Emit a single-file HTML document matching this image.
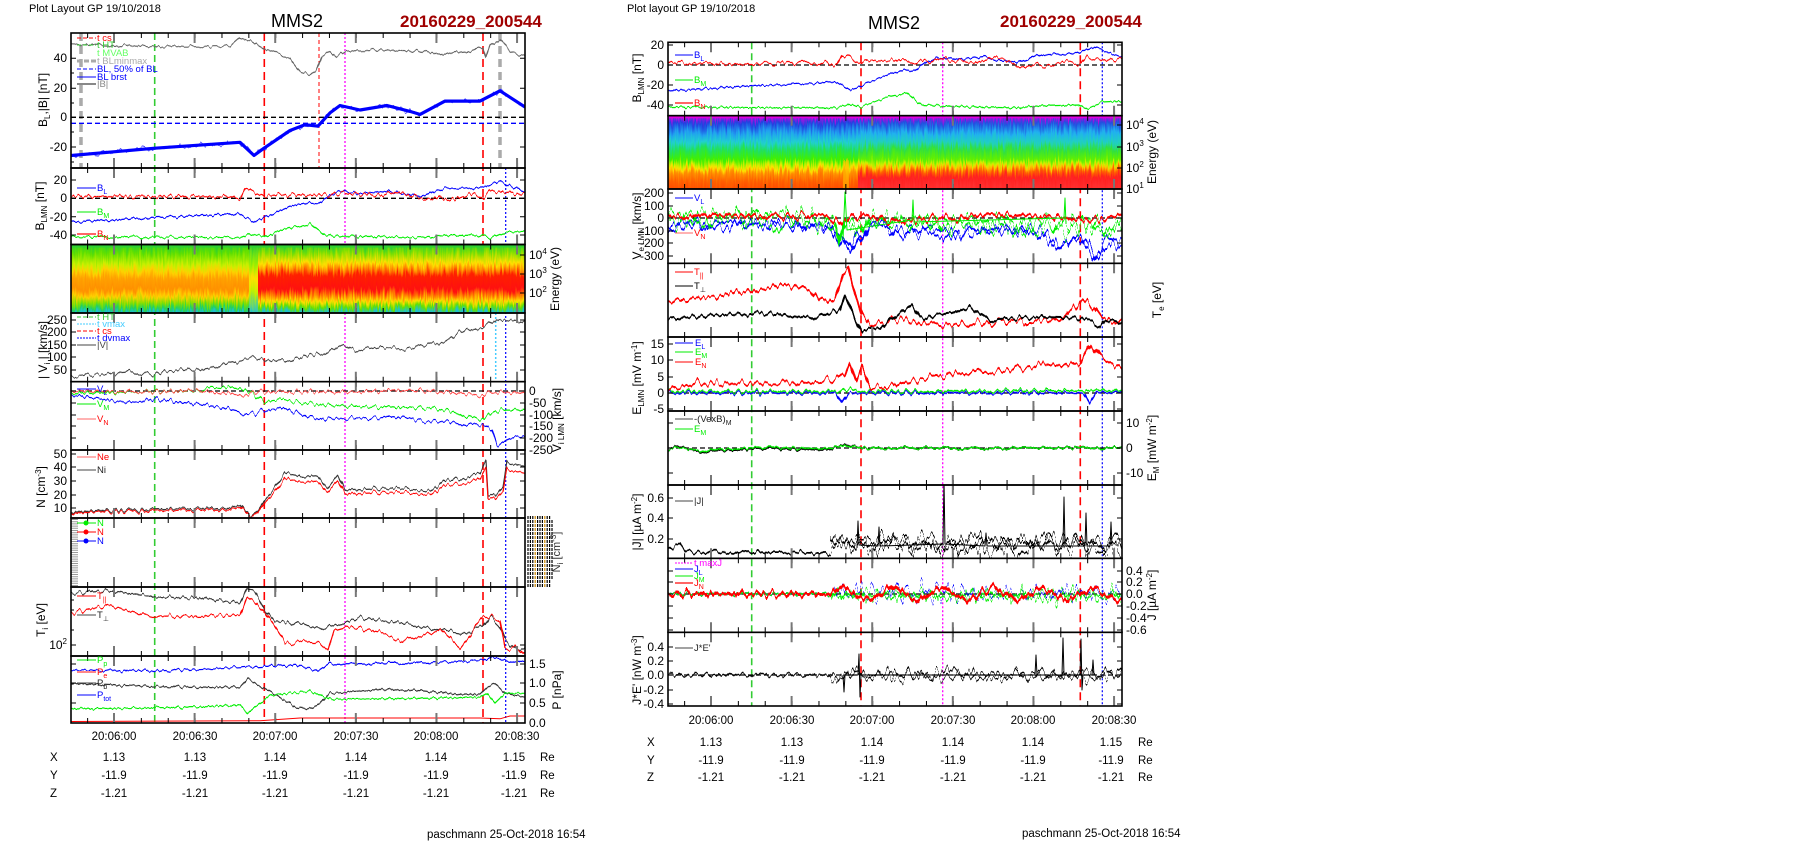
<!DOCTYPE html>
<html><head><meta charset="utf-8"><style>html,body{margin:0;padding:0;background:#fff}svg{display:block}</style></head>
<body>
<svg width="1804" height="841" xmlns="http://www.w3.org/2000/svg" xmlns:xlink="http://www.w3.org/1999/xlink" font-family="Liberation Sans, Arial, sans-serif">
<rect width="1804" height="841" fill="#fff"/>
<defs>
<linearGradient id="gO" x1="0" y1="244.5" x2="0" y2="313" gradientUnits="userSpaceOnUse">
<stop offset="0" stop-color="#30d030"/><stop offset="0.12" stop-color="#60e000"/><stop offset="0.3" stop-color="#c8f000"/><stop offset="0.4" stop-color="#ffd000"/><stop offset="0.5" stop-color="#ffa000"/><stop offset="0.65" stop-color="#ff9000"/><stop offset="0.76" stop-color="#ffd000"/><stop offset="0.86" stop-color="#80e000"/><stop offset="0.94" stop-color="#20d060"/><stop offset="1" stop-color="#20c0d0"/></linearGradient>
<linearGradient id="gR" x1="0" y1="244.5" x2="0" y2="313" gradientUnits="userSpaceOnUse">
<stop offset="0" stop-color="#30d030"/><stop offset="0.12" stop-color="#80e000"/><stop offset="0.27" stop-color="#ffe000"/><stop offset="0.37" stop-color="#ff8000"/><stop offset="0.45" stop-color="#ff2000"/><stop offset="0.65" stop-color="#ff1010"/><stop offset="0.75" stop-color="#ff8000"/><stop offset="0.83" stop-color="#ffe000"/><stop offset="0.91" stop-color="#60e000"/><stop offset="1" stop-color="#20c0d0"/></linearGradient>
<linearGradient id="gY" x1="0" y1="244.5" x2="0" y2="313" gradientUnits="userSpaceOnUse">
<stop offset="0" stop-color="#30d030"/><stop offset="0.3" stop-color="#a0f000"/><stop offset="0.5" stop-color="#ffe000"/><stop offset="0.7" stop-color="#c0f000"/><stop offset="1" stop-color="#20c0d0"/></linearGradient>
<linearGradient id="gE1" x1="0" y1="115.7" x2="0" y2="189" gradientUnits="userSpaceOnUse">
<stop offset="0" stop-color="#e000e0"/><stop offset="0.05" stop-color="#8020e0"/><stop offset="0.1" stop-color="#2040e0"/><stop offset="0.24" stop-color="#20a0f0"/><stop offset="0.36" stop-color="#20d0d0"/><stop offset="0.46" stop-color="#20e060"/><stop offset="0.6" stop-color="#40f000"/><stop offset="0.67" stop-color="#c0f000"/><stop offset="0.72" stop-color="#ffe000"/><stop offset="0.78" stop-color="#ff9000"/><stop offset="0.9" stop-color="#ff6000"/><stop offset="1" stop-color="#ff5000"/></linearGradient>
<linearGradient id="gE2" x1="0" y1="115.7" x2="0" y2="189" gradientUnits="userSpaceOnUse">
<stop offset="0" stop-color="#e000e0"/><stop offset="0.05" stop-color="#8020e0"/><stop offset="0.1" stop-color="#2050e0"/><stop offset="0.24" stop-color="#20b0f0"/><stop offset="0.36" stop-color="#20d0c0"/><stop offset="0.46" stop-color="#30e040"/><stop offset="0.6" stop-color="#60f000"/><stop offset="0.66" stop-color="#d0f000"/><stop offset="0.7" stop-color="#ffc000"/><stop offset="0.76" stop-color="#ff6000"/><stop offset="0.84" stop-color="#ff2020"/><stop offset="1" stop-color="#ff3030"/></linearGradient>

<filter id="n1" filterUnits="userSpaceOnUse" x="0" y="0" width="1804" height="841" color-interpolation-filters="sRGB"><feTurbulence type="fractalNoise" baseFrequency="0.25 0.01" numOctaves="2" seed="1" result="t"/><feColorMatrix in="t" type="matrix" values="0 0 0 0 0.5  0 1 0 0 0  0 0 0 0 0  0 0 0 0 1" result="m"/><feDisplacementMap in="SourceGraphic" in2="m" scale="6" xChannelSelector="R" yChannelSelector="G"/></filter>
<filter id="n2" filterUnits="userSpaceOnUse" x="0" y="0" width="1804" height="841" color-interpolation-filters="sRGB"><feTurbulence type="fractalNoise" baseFrequency="0.22 0.01" numOctaves="2" seed="2" result="t"/><feColorMatrix in="t" type="matrix" values="0 0 0 0 0.5  0 1 0 0 0  0 0 0 0 0  0 0 0 0 1" result="m"/><feDisplacementMap in="SourceGraphic" in2="m" scale="10" xChannelSelector="R" yChannelSelector="G"/></filter>
<filter id="n3" filterUnits="userSpaceOnUse" x="0" y="0" width="1804" height="841" color-interpolation-filters="sRGB"><feTurbulence type="fractalNoise" baseFrequency="0.2 0.01" numOctaves="2" seed="3" result="t"/><feColorMatrix in="t" type="matrix" values="0 0 0 0 0.5  0 1 0 0 0  0 0 0 0 0  0 0 0 0 1" result="m"/><feDisplacementMap in="SourceGraphic" in2="m" scale="18" xChannelSelector="R" yChannelSelector="G"/></filter>
<filter id="n4" filterUnits="userSpaceOnUse" x="0" y="0" width="1804" height="841" color-interpolation-filters="sRGB"><feTurbulence type="fractalNoise" baseFrequency="0.2 0.01" numOctaves="2" seed="4" result="t"/><feColorMatrix in="t" type="matrix" values="0 0 0 0 0.5  0 1 0 0 0  0 0 0 0 0  0 0 0 0 1" result="m"/><feDisplacementMap in="SourceGraphic" in2="m" scale="30" xChannelSelector="R" yChannelSelector="G"/></filter>
<filter id="n4b" filterUnits="userSpaceOnUse" x="0" y="0" width="1804" height="841" color-interpolation-filters="sRGB"><feTurbulence type="fractalNoise" baseFrequency="0.2 0.01" numOctaves="2" seed="14" result="t"/><feColorMatrix in="t" type="matrix" values="0 0 0 0 0.5  0 1 0 0 0  0 0 0 0 0  0 0 0 0 1" result="m"/><feDisplacementMap in="SourceGraphic" in2="m" scale="26" xChannelSelector="R" yChannelSelector="G"/></filter>
<filter id="n5" filterUnits="userSpaceOnUse" x="0" y="0" width="1804" height="841" color-interpolation-filters="sRGB"><feTurbulence type="fractalNoise" baseFrequency="0.2 0.01" numOctaves="2" seed="5" result="t"/><feColorMatrix in="t" type="matrix" values="0 0 0 0 0.5  0 1 0 0 0  0 0 0 0 0  0 0 0 0 1" result="m"/><feDisplacementMap in="SourceGraphic" in2="m" scale="48" xChannelSelector="R" yChannelSelector="G"/></filter>
<filter id="n5b" filterUnits="userSpaceOnUse" x="0" y="0" width="1804" height="841" color-interpolation-filters="sRGB"><feTurbulence type="fractalNoise" baseFrequency="0.2 0.01" numOctaves="2" seed="25" result="t"/><feColorMatrix in="t" type="matrix" values="0 0 0 0 0.5  0 1 0 0 0  0 0 0 0 0  0 0 0 0 1" result="m"/><feDisplacementMap in="SourceGraphic" in2="m" scale="40" xChannelSelector="R" yChannelSelector="G"/></filter>
<filter id="ns" filterUnits="userSpaceOnUse" x="0" y="0" width="1804" height="841" color-interpolation-filters="sRGB"><feTurbulence type="fractalNoise" baseFrequency="0.6 0.05" numOctaves="2" seed="9" result="t"/><feColorMatrix in="t" type="matrix" values="0 0 0 0 0.5  0 1 0 0 0  0 0 0 0 0  0 0 0 0 1" result="m"/><feDisplacementMap in="SourceGraphic" in2="m" scale="16" xChannelSelector="R" yChannelSelector="G"/></filter>

<clipPath id="cL1"><rect x="71" y="33" width="454" height="135"/></clipPath>
<clipPath id="cL2"><rect x="71" y="168" width="454" height="76.5"/></clipPath>
<clipPath id="cL3"><rect x="71" y="244.5" width="454" height="68.5"/></clipPath>
<clipPath id="cL4"><rect x="71" y="313" width="454" height="68.7"/></clipPath>
<clipPath id="cL5"><rect x="71" y="381.7" width="454" height="68.3"/></clipPath>
<clipPath id="cL6"><rect x="71" y="450" width="454" height="68"/></clipPath>
<clipPath id="cL8"><rect x="71" y="587" width="454" height="69"/></clipPath>
<clipPath id="cL9"><rect x="71" y="656" width="454" height="67"/></clipPath>
<clipPath id="cR1"><rect x="668" y="42.3" width="454" height="73.4"/></clipPath>
<clipPath id="cR2"><rect x="668" y="115.7" width="454" height="73.3"/></clipPath>
<clipPath id="cR3"><rect x="668" y="189" width="454" height="74.3"/></clipPath>
<clipPath id="cR4"><rect x="668" y="263.3" width="454" height="73.7"/></clipPath>
<clipPath id="cR5"><rect x="668" y="337" width="454" height="74"/></clipPath>
<clipPath id="cR6"><rect x="668" y="411" width="454" height="74"/></clipPath>
<clipPath id="cR7"><rect x="668" y="485" width="454" height="73.3"/></clipPath>
<clipPath id="cR8"><rect x="668" y="558.3" width="454" height="74"/></clipPath>
<clipPath id="cR9"><rect x="668" y="632.3" width="454" height="73.7"/></clipPath>

<g id="tkL"><line x1="87.12" x2="525" y1="2.5" y2="2.5" stroke="#000" stroke-width="5" stroke-dasharray="1 25.87"/><line x1="113" x2="525" y1="5" y2="5" stroke="#777" stroke-width="10" stroke-dasharray="2 78.61"/></g>
<g id="tkLb"><line x1="87.12" x2="525" y1="-2.5" y2="-2.5" stroke="#000" stroke-width="5" stroke-dasharray="1 25.87"/><line x1="113" x2="525" y1="-5" y2="-5" stroke="#777" stroke-width="10" stroke-dasharray="2 78.61"/></g>
<g id="tkR"><line x1="684.12" x2="1122" y1="2.5" y2="2.5" stroke="#000" stroke-width="5" stroke-dasharray="1 25.87"/><line x1="710" x2="1122" y1="5" y2="5" stroke="#777" stroke-width="10" stroke-dasharray="2 78.61"/></g>
<g id="tkRb"><line x1="684.12" x2="1122" y1="-2.5" y2="-2.5" stroke="#000" stroke-width="5" stroke-dasharray="1 25.87"/><line x1="710" x2="1122" y1="-5" y2="-5" stroke="#777" stroke-width="10" stroke-dasharray="2 78.61"/></g>
</defs>

<g fill="none">
<line x1="154.7" x2="154.7" y1="33" y2="723" stroke="#3c3" stroke-width="1.6" stroke-dasharray="7,4"/>
<line x1="264.3" x2="264.3" y1="33" y2="723" stroke="#f00" stroke-width="1.6" stroke-dasharray="8,5"/>
<line x1="345" x2="345" y1="33" y2="723" stroke="#f0f" stroke-width="1.3" stroke-dasharray="2,2"/>
<line x1="483" x2="483" y1="33" y2="723" stroke="#f00" stroke-width="1.6" stroke-dasharray="8,5"/>
<line x1="505.7" x2="505.7" y1="168" y2="723" stroke="#00f" stroke-width="1.2" stroke-dasharray="2,2"/>
<line x1="319" x2="319" y1="33" y2="168" stroke="#f00" stroke-width="1" stroke-dasharray="4,3"/>
<line x1="495.7" x2="495.7" y1="313" y2="381" stroke="#4cf" stroke-width="1.5" stroke-dasharray="2,2"/>
<line x1="81" x2="81" y1="33" y2="168" stroke="#aaa" stroke-width="3.5" stroke-dasharray="8,5"/>
<line x1="500" x2="500" y1="33" y2="168" stroke="#aaa" stroke-width="3.5" stroke-dasharray="8,5"/>
<line x1="751.7" x2="751.7" y1="42.3" y2="706" stroke="#3c3" stroke-width="1.6" stroke-dasharray="7,4"/>
<line x1="861" x2="861" y1="42.3" y2="706" stroke="#f00" stroke-width="1.6" stroke-dasharray="8,5"/>
<line x1="942.7" x2="942.7" y1="42.3" y2="706" stroke="#f0f" stroke-width="1.3" stroke-dasharray="2,2"/>
<line x1="1080.3" x2="1080.3" y1="42.3" y2="706" stroke="#f00" stroke-width="1.6" stroke-dasharray="8,5"/>
<line x1="1102.3" x2="1102.3" y1="42.3" y2="706" stroke="#00f" stroke-width="1.2" stroke-dasharray="2,2"/>
</g>

<g clip-path="url(#cL3)"><g filter="url(#ns)">
<rect x="60" y="234" width="190" height="90" fill="url(#gO)"/><rect x="249" y="234" width="9" height="90" fill="url(#gY)"/><rect x="258" y="234" width="280" height="90" fill="url(#gR)"/>
</g>
<rect x="71" y="244.5" width="454" height="3" fill="#30d030"/>
</g>
<g clip-path="url(#cR2)"><g filter="url(#ns)">
<rect x="660" y="105" width="198" height="95" fill="url(#gE1)"/><rect x="858" y="105" width="275" height="95" fill="url(#gE2)"/>
<rect x="843" y="160" width="6" height="35" fill="#ffc000" opacity="0.6"/>
</g>
<rect x="668" y="115.7" width="454" height="2.5" fill="#e000e0"/>
</g>

<g stroke-width="1.3" stroke-dasharray="5,3">
<line x1="71" x2="525" y1="117.3" y2="117.3" stroke="#000"/><line x1="71" x2="525" y1="123.3" y2="123.3" stroke="#00f"/>
<line x1="71" x2="525" y1="198.3" y2="198.3" stroke="#000"/><line x1="71" x2="525" y1="391" y2="391" stroke="#000"/>
<line x1="668" x2="1122" y1="65" y2="65" stroke="#000"/><line x1="668" x2="1122" y1="218" y2="218" stroke="#000"/>
<line x1="668" x2="1122" y1="393" y2="393" stroke="#000"/><line x1="668" x2="1122" y1="448" y2="448" stroke="#000"/>
<line x1="668" x2="1122" y1="594" y2="594" stroke="#000"/><line x1="668" x2="1122" y1="675" y2="675" stroke="#000"/>
</g>

<g fill="none" stroke-linejoin="round">
<g clip-path="url(#cL1)">
<polyline filter="url(#n1)" stroke="#666" stroke-width="1.2" points="71,43.8 150,46.7 230,46.7 240,37.9 250,40.9 264,48.2 290,58.5 300,71.7 310,74.7 316,71.7 322,55.6 330,51.1 336,57 345,51.1 380,49.7 420,51.1 440,54.1 470,51.1 483,46.7 486,57 490,45.3 500,39.4 510,51.1 525,57"/>
<polyline filter="url(#n2)" stroke="#55f" stroke-width="1.2" points="71,155.5 155,148.2 240,142.3 254,155.5 264,148.2 290,130.5 305,124.7 318,126.1 330,112.9 340,105.5 360,110 387,105.5 410,111.4 420,114.4 445,101.1 480,101.1 500,90.8 525,107"/>
<polyline stroke="#00f" stroke-width="3.2" points="71,155.5 155,148.2 240,142.3 254,155.5 264,148.2 290,130.5 305,124.7 318,126.1 330,112.9 340,105.5 360,110 387,105.5 410,111.4 420,114.4 445,101.1 480,101.1 500,90.8 525,107"/>
</g>
<g clip-path="url(#cL2)">
<polyline filter="url(#n1)" stroke="#00f" stroke-width="1.2" points="71,222.1 155,217.6 240,213.9 254,222.1 264,217.6 290,206.6 305,202.9 318,203.8 330,195.5 340,191 360,193.7 387,191 410,194.6 420,196.5 445,188.2 480,188.2 500,181.8 525,191.9"/>
<polyline filter="url(#n2)" stroke="#f00" stroke-width="1.2" points="71,196.5 230,196.5 240,199.2 245,189.1 252,191 260,195.5 300,194.6 330,195.5 340,192.8 380,195.5 400,191.9 410,195.5 430,200.1 440,196.5 450,201 470,193.7 483,198.3 490,191 525,194.6"/>
<polyline filter="url(#n1)" stroke="#0e0" stroke-width="1.2" points="71,236.8 240,237.7 250,234 264,236.8 290,227.6 300,225.8 310,224 318,230.4 325,235 345,235.9 420,237.7 440,235.9 483,235 490,238.6 505,232.2 525,231.3"/>
</g>
<g clip-path="url(#cL4)">
<polyline filter="url(#n2)" stroke="#444" stroke-width="1.2" points="71,376.3 130,372.5 155,375 165,371.3 195,370 240,362.5 252,357.5 264,360 283,361.3 310,355 325,355 342,345 357,351.3 380,346.3 405,348.8 430,342.5 445,342.5 460,332.5 470,328.8 483,327.5 497,318.8 510,321.3 525,320"/>
</g>
<g clip-path="url(#cL5)">
<polyline filter="url(#n2)" stroke="#00f" stroke-width="1.2" points="71,395 130,402.8 155,399 220,407 250,414.6 264,409.9 283,408.5 310,417 345,418.8 400,417 425,421.7 465,422.9 483,425.2 492,431.1 497,446.7 510,438.2 525,435.8"/>
<polyline filter="url(#n2)" stroke="#0e0" stroke-width="1.2" points="71,393.4 155,391.7 200,391 210,386.8 240,388.6 250,392.2 264,401.6 283,399.3 300,402.8 345,406.1 400,407.5 430,408 460,413.4 483,420 490,414.6 500,409.9 525,409.9"/>
<polyline filter="url(#n2)" stroke="#f44" stroke-width="1.2" points="71,391 150,392.2 200,390.5 245,395.7 255,392.2 300,391.7 350,392.2 410,389.8 430,391 483,395.7 490,392.2 525,392.9"/>
</g>
<g clip-path="url(#cL6)">
<polyline filter="url(#n2)" stroke="#333" stroke-width="1.2" points="71,511.9 155,509.2 230,507.9 240,505.2 250,515.9 258,510.6 264,501.2 275,487.7 285,474.3 300,477 318,475.6 327,487.7 338,474.3 345,490.4 400,487.7 430,491.8 445,481 470,477 480,473 486,460.9 488,494.4 495,495.8 503,487.7 507,462.2 525,466.2"/>
<polyline filter="url(#n2)" stroke="#f00" stroke-width="1.2" points="71,513 155,510.7 230,509.5 240,507.1 250,516.6 258,511.9 264,503.6 275,491.8 285,479.9 300,482.3 318,481.1 327,491.8 338,479.9 345,494.1 400,491.8 430,495.3 445,485.8 470,482.3 480,478.7 486,468.1 488,497.7 495,498.9 503,491.8 507,469.3 525,472.8"/>
</g>
<g clip-path="url(#cL8)">
<polyline filter="url(#n2)" stroke="#333" stroke-width="1.2" points="71,593 110,591 155,597 200,598 240,603 247,588 255,592 265,610 275,622 290,622 320,628 345,623 360,618 400,623 440,630 460,633 483,627 490,616 500,626 505,640 515,648 525,650"/>
<polyline filter="url(#n2)" stroke="#f00" stroke-width="1.2" points="71,613 110,605 150,617 240,615 247,597 255,603 265,612 285,642 320,642 328,650 334,630 345,627 380,632 400,642 440,630 460,647 483,617 490,616 500,620 505,650 515,646 525,655"/>
</g>
<g clip-path="url(#cL9)">
<polyline filter="url(#n1)" stroke="#00f" stroke-width="1.2" points="71,670.2 155,671 230,667.8 264,665.9 300,665.9 318,671.7 330,663.9 420,663.1 483,661.2 490,657.6 500,659.2 510,661.9 525,661.9"/>
<polyline filter="url(#n1)" stroke="#333" stroke-width="1.2" points="71,683.5 155,686.6 240,687.4 248,678.8 270,691.3 295,707 310,709 320,703.1 330,693.3 380,689.4 420,690.6 460,694.5 480,694.5 487,687.4 495,683.5 505,693.3 525,697.2"/>
<polyline filter="url(#n1)" stroke="#0e0" stroke-width="1.2" points="71,709 200,707 240,705.1 248,712.9 270,695.3 310,691.3 330,699.2 420,698.4 480,697.2 487,693.3 495,703.1 505,693.3 525,693.3"/>
<polyline stroke="#f00" stroke-width="1" points="71,721.5 260,720.7 300,718 480,718 500,718.8 510,716 525,716"/>
</g>

<g clip-path="url(#cR1)">
<polyline filter="url(#n1)" stroke="#00f" stroke-width="1.2" points="668,91 752,86 837,82 851,91 861,86 887,74 902,70 915,71 927,62 937,57 957,60 984,57 1007,61 1017,63 1042,54 1077,54 1097,47 1122,58"/>
<polyline filter="url(#n2)" stroke="#f00" stroke-width="1.2" points="668,63 827,63 837,66 842,55 849,57 857,62 897,61 927,62 937,59 977,62 997,58 1007,62 1027,67 1037,63 1047,68 1067,60 1080,65 1087,57 1122,61"/>
<polyline filter="url(#n1)" stroke="#0e0" stroke-width="1.2" points="668,107 837,108 847,104 861,107 887,97 897,95 907,93 915,100 922,105 942,106 1017,108 1037,106 1080,105 1087,109 1102,102 1122,101"/>
</g>
<g clip-path="url(#cR3)">
<polyline filter="url(#n4)" stroke="#00f" stroke-width="2" points="668,226.7 700,224.2 800,225.1 830,226.7 840,240 850,249 858,236.6 863,240.3 870,225.1 900,230 940,232.9 1000,230 1040,232.9 1063,244 1080,240 1095,254 1105,245.3 1122,241.6"/>
<polyline filter="url(#n4b)" stroke="#00f" stroke-width="2" points="668,226.7 700,224.2 800,225.1 830,226.7 840,240 850,249 858,236.6 863,240.3 870,225.1 900,230 940,232.9 1000,230 1040,232.9 1063,244 1080,240 1095,254 1105,245.3 1122,241.6"/>
<polyline filter="url(#n5)" stroke="#0e0" stroke-width="2" points="668,218 700,216.8 800,218 835,224.2 840,240.3 845,223 860,230.4 870,218 900,220.5 950,223 1000,224.2 1060,226.7 1090,223 1100,229.2 1122,224.2"/>
<polyline filter="url(#n5b)" stroke="#0e0" stroke-width="2" points="668,218 700,216.8 800,218 835,224.2 840,240.3 845,223 860,230.4 870,218 900,220.5 950,223 1000,224.2 1060,226.7 1090,223 1100,229.2 1122,224.2"/>
<polyline filter="url(#n3)" stroke="#f00" stroke-width="2.4" points="668,216.8 700,215.5 790,216.8 830,216.8 840,223 850,216.8 870,216.1 900,221.7 940,217.4 1000,214.9 1040,216.8 1060,218 1080,219.2 1095,219.9 1122,216.8"/>
<polyline stroke="#0e0" stroke-width="1" points="843,240 845,192 847,230 912,220 913,200 914,222 1064,218 1065,198 1066,224"/>
</g>
<g clip-path="url(#cR4)">
<polyline filter="url(#n3)" stroke="#f00" stroke-width="2" points="668,301.7 700,298 760,290 790,285 810,290 820,300 835,300 843,272 848,268 852,285 862,315 870,323 900,320 950,325 1000,322 1040,322 1060,320 1082,300 1095,308 1102,318 1122,321"/>
<polyline filter="url(#n2)" stroke="#000" stroke-width="2" points="668,318 760,313 810,318 840,310 845,295 855,318 862,330 880,330 890,320 912,305 920,318 950,313 970,307 990,320 1040,317 1082,318 1100,326 1105,320 1122,321"/>
</g>
<g clip-path="url(#cR5)">
<polyline filter="url(#n2)" stroke="#00f" stroke-width="1.6" points="668,393 836,393 842,403 848,393 1084,393 1090,403 1096,393 1122,392"/>
<polyline filter="url(#n2)" stroke="#0e0" stroke-width="1.6" points="668,391.5 840,391.5 850,388 860,391.5 1122,390.5"/>
<polyline filter="url(#n3)" stroke="#f00" stroke-width="2" points="668,389.7 700,383.2 800,383.2 830,379.9 845,373.4 850,360.3 856,379.9 862,366.8 870,386.5 890,386.5 930,376.7 960,373.4 1000,370.1 1040,366.8 1080,363.6 1092,344 1100,357 1122,366.8"/>
</g>
<g clip-path="url(#cR6)">
<polyline filter="url(#n1)" stroke="#000" stroke-width="1.8" points="668,450 680,446 700,452 720,450 760,449 830,449 845,445 860,448 1122,448"/>
<polyline filter="url(#n1)" stroke="#0e0" stroke-width="1.4" points="668,450 680,447 700,451 720,449 760,448 830,448 845,446 860,448 1122,448"/>
</g>
<g clip-path="url(#cR7)">
<polyline filter="url(#n2)" stroke="#000" stroke-width="1.8" points="668,548 680,546 686,552 830,553"/>
<polyline filter="url(#n5)" stroke="#000" stroke-width="1.8" points="830,546 1122,545"/>
<polyline filter="url(#n4)" stroke="#000" stroke-width="1.8" points="830,543 1122,542"/>
<polyline filter="url(#n5b)" stroke="#000" stroke-width="1.8" points="830,544 1122,543"/>
<polyline stroke="#000" stroke-width="1" points="857,548 858,521 859,545 878,546 879,527 880,546 943,544 944,480 945,544 985,546 986,533 987,546 1063,546 1064,497 1065,546 1085,546 1086,513 1087,546 1110,546 1111,522 1112,546"/>
</g>
<g clip-path="url(#cR8)">
<polyline filter="url(#n2)" stroke="#00f" stroke-width="1.4" points="668,594 830,594"/>
<polyline filter="url(#n5)" stroke="#00f" stroke-width="1.6" points="830,593 1122,593"/>
<polyline filter="url(#n2)" stroke="#0e0" stroke-width="1.4" points="668,594 830,594"/>
<polyline filter="url(#n5b)" stroke="#0e0" stroke-width="1.8" points="830,596 1122,596"/>
<polyline filter="url(#n4)" stroke="#0e0" stroke-width="1.6" points="830,595 1122,595"/>
<polyline filter="url(#n3)" stroke="#f00" stroke-width="3" points="668,594 830,594 842.5,587 855,594 867.5,601 880,594 892.5,586 905,594 917.5,601 930,594 942.5,587 955,594 967.5,601 980,594 992.5,587 1005,594 1017.5,601 1030,594 1042.5,587 1055,594 1067.5,601 1080,594 1092.5,587 1105,594 1117.5,601 1122,599"/>
</g>
<g clip-path="url(#cR9)">
<polyline filter="url(#n2)" stroke="#000" stroke-width="1.6" points="668,675 830,675"/>
<polyline filter="url(#n4)" stroke="#000" stroke-width="1.6" points="830,675 1122,675"/>
<polyline filter="url(#n4b)" stroke="#000" stroke-width="1.6" points="830,675 1122,675"/>
<polyline stroke="#000" stroke-width="1" points="843,675 844,692 845,675 858,675 859,654 860,697 861,675 1035,675 1036,655 1037,675 1062,675 1063,638 1064,675 1080,675 1081,639 1082,690 1083,675 1092,675 1093,660 1094,675"/>
</g>
</g>

<line x1="74.5" x2="74.5" y1="519" y2="586" stroke="#999" stroke-width="7" stroke-dasharray="1 1.2"/>
<g stroke-width="1.2" stroke-dasharray="3,1">
<line x1="528" x2="528" y1="516" y2="588" stroke="#000"/><line x1="530.4" x2="530.4" y1="516" y2="588" stroke="#000"/><line x1="532.8" x2="532.8" y1="516" y2="588" stroke="#000"/><line x1="535.2" x2="535.2" y1="516" y2="588" stroke="#c80"/><line x1="537.6" x2="537.6" y1="516" y2="588" stroke="#000"/><line x1="540" x2="540" y1="516" y2="588" stroke="#000"/><line x1="542.4" x2="542.4" y1="516" y2="588" stroke="#000"/><line x1="544.8" x2="544.8" y1="516" y2="588" stroke="#c80"/><line x1="547.2" x2="547.2" y1="516" y2="588" stroke="#000"/><line x1="549.6" x2="549.6" y1="516" y2="588" stroke="#000"/><line x1="552" x2="552" y1="520" y2="580" stroke="#000"/>
</g>

<use xlink:href="#tkL" y="33"/><use xlink:href="#tkLb" y="168"/>
<use xlink:href="#tkL" y="168"/><use xlink:href="#tkLb" y="244.5"/>
<use xlink:href="#tkL" y="244.5"/><use xlink:href="#tkLb" y="313"/>
<use xlink:href="#tkL" y="313"/><use xlink:href="#tkLb" y="381.7"/>
<use xlink:href="#tkL" y="381.7"/><use xlink:href="#tkLb" y="450"/>
<use xlink:href="#tkL" y="450"/><use xlink:href="#tkLb" y="518"/>
<use xlink:href="#tkL" y="518"/><use xlink:href="#tkLb" y="587"/>
<use xlink:href="#tkL" y="587"/><use xlink:href="#tkLb" y="656"/>
<use xlink:href="#tkL" y="656"/><use xlink:href="#tkLb" y="723"/>
<use xlink:href="#tkR" y="42.3"/><use xlink:href="#tkRb" y="115.7"/>
<use xlink:href="#tkR" y="115.7"/><use xlink:href="#tkRb" y="189"/>
<use xlink:href="#tkR" y="189"/><use xlink:href="#tkRb" y="263.3"/>
<use xlink:href="#tkR" y="263.3"/><use xlink:href="#tkRb" y="337"/>
<use xlink:href="#tkR" y="337"/><use xlink:href="#tkRb" y="411"/>
<use xlink:href="#tkR" y="411"/><use xlink:href="#tkRb" y="485"/>
<use xlink:href="#tkR" y="485"/><use xlink:href="#tkRb" y="558.3"/>
<use xlink:href="#tkR" y="558.3"/><use xlink:href="#tkRb" y="632.3"/>
<use xlink:href="#tkR" y="632.3"/><use xlink:href="#tkRb" y="706"/>
<g fill="none" stroke="#000" stroke-width="1.6">
<rect x="71" y="33" width="454" height="135"/><rect x="71" y="168" width="454" height="76.5"/><rect x="71" y="244.5" width="454" height="68.5"/><rect x="71" y="313" width="454" height="68.7"/><rect x="71" y="381.7" width="454" height="68.3"/><rect x="71" y="450" width="454" height="68"/><rect x="71" y="518" width="454" height="69"/><rect x="71" y="587" width="454" height="69"/><rect x="71" y="656" width="454" height="67"/>
<rect x="668" y="42.3" width="454" height="73.4"/><rect x="668" y="115.7" width="454" height="73.3"/><rect x="668" y="189" width="454" height="74.3"/><rect x="668" y="263.3" width="454" height="73.7"/><rect x="668" y="337" width="454" height="74"/><rect x="668" y="411" width="454" height="74"/><rect x="668" y="485" width="454" height="73.3"/><rect x="668" y="558.3" width="454" height="74"/><rect x="668" y="632.3" width="454" height="73.7"/>
</g>
<g stroke="#000" stroke-width="1">
<path d="M71 58.3h5M71 88.3h5M71 117.3h5M71 147h5M71 73h3M71 103h3M71 132h3M71 162h3M520 58.3h5M520 88.3h5M520 117.3h5M520 147h5"/>
<path d="M71 180h5M71 198.3h5M71 216.7h5M71 235h5M520 180h5M520 198.3h5M520 216.7h5M520 235h5"/>
<path d="M71 320h5M71 332h5M71 345h5M71 357h5M71 370h5M520 320h5M520 332h5M520 345h5M520 357h5M520 370h5"/>
<path d="M520 391h5M520 403h5M520 415h5M520 426h5M520 438h5M71 391h5M71 403h5M71 415h5M71 426h5M71 438h5"/>
<path d="M71 454h5M71 467h5M71 481h5M71 495h5M71 508h5M520 454h5M520 467h5M520 481h5M520 495h5M520 508h5"/>
<path d="M71 645h5M71 610h3M71 600h3M71 630h3M520 645h5"/>
<path d="M520 664h5M520 683h5M520 703h5M71 664h5M71 683h5M71 703h5"/>
<path d="M520 255h5M520 274h5M520 293h5"/>
<path d="M668 45h5M668 65h5M668 85h5M668 105h5M1117 45h5M1117 65h5M1117 85h5M1117 105h5"/>
<path d="M1117 125h5M1117 147h5M1117 168h5"/>
<path d="M668 193h5M668 206h5M668 218h5M668 231h5M668 243h5M668 256h5M1117 193h5M1117 206h5M1117 218h5M1117 231h5M1117 243h5M1117 256h5"/>
<path d="M668 344h5M668 360h5M668 377h5M668 393h5M668 409h5M1117 344h5M1117 360h5M1117 377h5M1117 393h5M1117 409h5"/>
<path d="M668 423h5M668 448h5M668 473h5M1117 423h5M1117 448h5M1117 473h5"/>
<path d="M668 498h5M668 518h5M668 539h5M1117 498h5M1117 518h5M1117 539h5"/>
<path d="M668 571h5M668 582h5M668 594h5M668 606h5M668 618h5M668 630h5M1117 571h5M1117 582h5M1117 594h5M1117 606h5M1117 618h5M1117 630h5"/>
<path d="M668 647h5M668 661h5M668 675h5M668 690h5M668 704h5M1117 647h5M1117 661h5M1117 675h5M1117 690h5M1117 704h5"/>
</g>

<text x="29" y="12" font-size="11">Plot Layout GP 19/10/2018</text>
<text x="297" y="27" font-size="18" text-anchor="middle">MMS2</text>
<text x="400" y="27" font-size="17" font-weight="bold" fill="#a00000">20160229_200544</text>
<text x="627" y="12" font-size="11">Plot layout GP 19/10/2018</text>
<text x="894" y="29" font-size="18" text-anchor="middle">MMS2</text>
<text x="1000" y="27" font-size="17" font-weight="bold" fill="#a00000">20160229_200544</text>

<g font-size="12" text-anchor="end">
<text x="67" y="62">40</text><text x="67" y="92">20</text><text x="67" y="121">0</text><text x="67" y="151">-20</text>
<text x="67" y="184">20</text><text x="67" y="202">0</text><text x="67" y="221">-20</text><text x="67" y="239">-40</text>
<text x="67" y="324">250</text><text x="67" y="336">200</text><text x="67" y="349">150</text><text x="67" y="361">100</text><text x="67" y="374">50</text>
<text x="67" y="458">50</text><text x="67" y="471">40</text><text x="67" y="485">30</text><text x="67" y="499">20</text><text x="67" y="512">10</text>
<text x="67" y="649">10<tspan font-size="8" dy="-5">2</tspan></text>
</g>
<g font-size="12">
<text x="529" y="259">10<tspan font-size="8" dy="-5">4</tspan></text><text x="529" y="278">10<tspan font-size="8" dy="-5">3</tspan></text><text x="529" y="297">10<tspan font-size="8" dy="-5">2</tspan></text>
<text x="529" y="395">0</text><text x="529" y="407">-50</text><text x="529" y="419">-100</text><text x="529" y="430">-150</text><text x="529" y="442">-200</text><text x="529" y="454">-250</text>
<text x="529" y="668">1.5</text><text x="529" y="687">1.0</text><text x="529" y="707">0.5</text><text x="529" y="727">0.0</text>
</g>
<g font-size="12">
<text transform="translate(47,100) rotate(-90)" text-anchor="middle">B<tspan font-size="8" dy="3">L</tspan><tspan dy="-3">,|B| [nT]</tspan></text>
<text transform="translate(44,206) rotate(-90)" text-anchor="middle">B<tspan font-size="8" dy="3">LMN</tspan><tspan dy="-3"> [nT]</tspan></text>
<text transform="translate(47,350) rotate(-90)" text-anchor="middle">| V<tspan font-size="8" dy="3">i</tspan><tspan dy="-3"> | [km/s]</tspan></text>
<text transform="translate(45,487) rotate(-90)" text-anchor="middle">N [cm<tspan font-size="8" dy="-4">-3</tspan><tspan dy="4">]</tspan></text>
<text transform="translate(45,620) rotate(-90)" text-anchor="middle">T<tspan font-size="8" dy="3">i</tspan><tspan dy="-3"> [eV]</tspan></text>
<text transform="translate(559,279) rotate(-90)" text-anchor="middle">Energy (eV)</text>
<text transform="translate(561,420) rotate(-90)" text-anchor="middle">V<tspan font-size="8" dy="3">i LMN</tspan><tspan dy="-3"> [km/s]</tspan></text>
<text transform="translate(561,690) rotate(-90)" text-anchor="middle">P [nPa]</text>
<text transform="translate(560,552) rotate(-90)" text-anchor="middle" font-size="11" fill="#333">N<tspan font-size="8" dy="3">i</tspan><tspan dy="-3"> [cm</tspan><tspan font-size="8" dy="-4">-3</tspan><tspan dy="4">]</tspan></text>
</g>

<g font-size="12" text-anchor="end">
<text x="664" y="49">20</text><text x="664" y="69">0</text><text x="664" y="89">-20</text><text x="664" y="109">-40</text>
<text x="664" y="197">200</text><text x="664" y="210">100</text><text x="664" y="222">0</text><text x="664" y="235">-100</text><text x="664" y="247">-200</text><text x="664" y="260">-300</text>
<text x="664" y="348">15</text><text x="664" y="364">10</text><text x="664" y="381">5</text><text x="664" y="397">0</text><text x="664" y="413">-5</text>
<text x="664" y="502">0.6</text><text x="664" y="522">0.4</text><text x="664" y="543">0.2</text>
<text x="664" y="651">0.4</text><text x="664" y="665">0.2</text><text x="664" y="679">0.0</text><text x="664" y="694">-0.2</text><text x="664" y="708">-0.4</text>
</g>
<g font-size="12">
<text x="1126" y="129">10<tspan font-size="8" dy="-5">4</tspan></text><text x="1126" y="151">10<tspan font-size="8" dy="-5">3</tspan></text><text x="1126" y="172">10<tspan font-size="8" dy="-5">2</tspan></text><text x="1126" y="193">10<tspan font-size="8" dy="-5">1</tspan></text>
<text x="1126" y="427">10</text><text x="1126" y="452">0</text><text x="1126" y="477">-10</text>
<text x="1126" y="575">0.4</text><text x="1126" y="586">0.2</text><text x="1126" y="598">0.0</text><text x="1126" y="610">-0.2</text><text x="1126" y="622">-0.4</text><text x="1126" y="634">-0.6</text>
</g>
<g font-size="12">
<text transform="translate(641,78) rotate(-90)" text-anchor="middle">B<tspan font-size="8" dy="3">LMN</tspan><tspan dy="-3"> [nT]</tspan></text>
<text transform="translate(641,226) rotate(-90)" text-anchor="middle">V<tspan font-size="8" dy="3">e LMN</tspan><tspan dy="-3"> [km/s]</tspan></text>
<text transform="translate(641,378) rotate(-90)" text-anchor="middle">E<tspan font-size="8" dy="3">LMN</tspan><tspan dy="-3">  [mV m</tspan><tspan font-size="8" dy="-4">-1</tspan><tspan dy="4">]</tspan></text>
<text transform="translate(641,522) rotate(-90)" text-anchor="middle">|J| [µA m<tspan font-size="8" dy="-4">-2</tspan><tspan dy="4">]</tspan></text>
<text transform="translate(641,670) rotate(-90)" text-anchor="middle">J*E' [nW m<tspan font-size="8" dy="-4">-3</tspan><tspan dy="4">]</tspan></text>
<text transform="translate(1156,152) rotate(-90)" text-anchor="middle">Energy (eV)</text>
<text transform="translate(1161,300) rotate(-90)" text-anchor="middle">T<tspan font-size="8" dy="3">e</tspan><tspan dy="-3"> [eV]</tspan></text>
<text transform="translate(1156,448) rotate(-90)" text-anchor="middle">E<tspan font-size="8" dy="3">M</tspan><tspan dy="-3"> [mW m</tspan><tspan font-size="8" dy="-4">-2</tspan><tspan dy="4">]</tspan></text>
<text transform="translate(1156,595) rotate(-90)" text-anchor="middle">J [µA m<tspan font-size="8" dy="-4">-2</tspan><tspan dy="4">]</tspan></text>
</g>

<g font-size="9.5">
<line x1="77" y1="38" x2="96" y2="38" stroke="#f00" stroke-dasharray="4,2"/><text x="97" y="41" fill="#f00">t  cs</text>
<line x1="77" y1="45" x2="96" y2="45" stroke="#3c3" stroke-dasharray="4,2"/><text x="97" y="48" fill="#3c3">t  HT</text>
<text x="97" y="56" fill="#6f6">t  MVAB</text>
<line x1="77" y1="61" x2="96" y2="61" stroke="#aaa" stroke-width="3" stroke-dasharray="5,2"/><text x="97" y="64" fill="#aaa">t  BLminmax</text>
<line x1="77" y1="69" x2="96" y2="69" stroke="#00f" stroke-dasharray="4,2"/><text x="97" y="72" fill="#00f">BL, 50% of BL</text>
<line x1="77" y1="77" x2="96" y2="77" stroke="#00f"/><text x="97" y="80" fill="#00f">BL  brst</text>
<line x1="77" y1="84" x2="96" y2="84" stroke="#888" stroke-width="2"/><text x="97" y="87" fill="#888">|B|</text>
<line x1="77" y1="188" x2="96" y2="188" stroke="#00f"/><text x="97" y="191" fill="#00f">B<tspan font-size="7" dy="3">L</tspan></text>
<line x1="77" y1="212" x2="96" y2="212" stroke="#0e0"/><text x="97" y="215" fill="#0e0">B<tspan font-size="7" dy="3">M</tspan></text>
<line x1="77" y1="234" x2="96" y2="234" stroke="#f66" stroke-width="2"/><text x="97" y="237" fill="#f00">B<tspan font-size="7" dy="3">N</tspan></text>
<line x1="77" y1="317" x2="96" y2="317" stroke="#3c3" stroke-dasharray="4,2"/><text x="97" y="320" fill="#3c3">t  HT</text>
<line x1="77" y1="324" x2="96" y2="324" stroke="#4cf" stroke-dasharray="2,1"/><text x="97" y="327" fill="#4cf">t  vmax</text>
<line x1="77" y1="331" x2="96" y2="331" stroke="#f00" stroke-dasharray="4,2"/><text x="97" y="334" fill="#f00">t  cs</text>
<line x1="77" y1="338" x2="96" y2="338" stroke="#00f" stroke-dasharray="2,1"/><text x="97" y="341" fill="#00f">t  dvmax</text>
<line x1="77" y1="345" x2="96" y2="345" stroke="#444"/><text x="97" y="348" fill="#444">|V|</text>
<line x1="77" y1="389" x2="96" y2="389" stroke="#00f"/><text x="97" y="392" fill="#00f">V<tspan font-size="7" dy="3">L</tspan></text>
<line x1="77" y1="404" x2="96" y2="404" stroke="#0e0"/><text x="97" y="407" fill="#0e0">V<tspan font-size="7" dy="3">M</tspan></text>
<line x1="77" y1="419" x2="96" y2="419" stroke="#f66"/><text x="97" y="422" fill="#f00">V<tspan font-size="7" dy="3">N</tspan></text>
<line x1="77" y1="457" x2="96" y2="457" stroke="#f66"/><text x="97" y="460" fill="#f00">Ne</text>
<line x1="77" y1="470" x2="96" y2="470" stroke="#444"/><text x="97" y="473" fill="#222">Ni</text>
<line x1="77" y1="523" x2="96" y2="523" stroke="#0e0"/><circle cx="86" cy="523" r="2.5" fill="#0e0"/><text x="97" y="526" fill="#0e0">N</text>
<line x1="77" y1="532" x2="96" y2="532" stroke="#f00"/><circle cx="86" cy="532" r="2.5" fill="#f00"/><text x="97" y="535" fill="#f00">N</text>
<line x1="77" y1="541" x2="96" y2="541" stroke="#00f"/><circle cx="86" cy="541" r="2.5" fill="#00f"/><text x="97" y="544" fill="#00f">N</text>
<line x1="77" y1="596" x2="96" y2="596" stroke="#f00"/><text x="97" y="599" fill="#f00">T<tspan font-size="7" dy="3">||</tspan></text>
<line x1="77" y1="615" x2="96" y2="615" stroke="#444"/><text x="97" y="618" fill="#222">T<tspan font-size="7" dy="3">⊥</tspan></text>
<line x1="77" y1="660" x2="96" y2="660" stroke="#0e0"/><text x="97" y="663" fill="#0e0">P<tspan font-size="7" dy="3">p</tspan></text>
<line x1="77" y1="672" x2="96" y2="672" stroke="#f88" stroke-width="2"/><text x="97" y="675" fill="#f00">P<tspan font-size="7" dy="3">e</tspan></text>
<line x1="77" y1="683" x2="96" y2="683" stroke="#444"/><text x="97" y="686" fill="#222">P<tspan font-size="7" dy="3">b</tspan></text>
<line x1="77" y1="695" x2="96" y2="695" stroke="#00f"/><text x="97" y="698" fill="#00f">P<tspan font-size="7" dy="3">tot</tspan></text>
</g>
<g font-size="9.5">
<line x1="675" y1="55" x2="693" y2="55" stroke="#00f"/><text x="694" y="58" fill="#00f">B<tspan font-size="7" dy="3">L</tspan></text>
<line x1="675" y1="80" x2="693" y2="80" stroke="#0e0"/><text x="694" y="83" fill="#0e0">B<tspan font-size="7" dy="3">M</tspan></text>
<line x1="675" y1="103" x2="693" y2="103" stroke="#f66" stroke-width="2"/><text x="694" y="106" fill="#f00">B<tspan font-size="7" dy="3">N</tspan></text>
<line x1="675" y1="198" x2="693" y2="198" stroke="#00f"/><text x="694" y="201" fill="#00f">V<tspan font-size="7" dy="3">L</tspan></text>
<line x1="675" y1="233" x2="693" y2="233" stroke="#f66"/><text x="694" y="236" fill="#f00">V<tspan font-size="7" dy="3">N</tspan></text>
<line x1="675" y1="272" x2="693" y2="272" stroke="#f00"/><text x="694" y="275" fill="#f00">T<tspan font-size="7" dy="3">||</tspan></text>
<line x1="675" y1="286" x2="693" y2="286" stroke="#000"/><text x="694" y="289" fill="#000">T<tspan font-size="7" dy="3">⊥</tspan></text>
<line x1="675" y1="343" x2="693" y2="343" stroke="#00f"/><text x="695" y="346" fill="#00f">E<tspan font-size="7" dy="3">L</tspan></text>
<line x1="675" y1="352" x2="693" y2="352" stroke="#0e0"/><text x="695" y="355" fill="#0e0">E<tspan font-size="7" dy="3">M</tspan></text>
<line x1="675" y1="362" x2="693" y2="362" stroke="#f00"/><text x="695" y="365" fill="#f00">E<tspan font-size="7" dy="3">N</tspan></text>
<line x1="675" y1="419" x2="693" y2="419" stroke="#444"/><text x="694" y="422" fill="#222">-(VexB)<tspan font-size="7" dy="3">M</tspan></text>
<line x1="675" y1="429" x2="693" y2="429" stroke="#0e0"/><text x="694" y="432" fill="#0e0">E<tspan font-size="7" dy="3">M</tspan></text>
<line x1="675" y1="501" x2="693" y2="501" stroke="#444"/><text x="694" y="504" fill="#222">|J|</text>
<line x1="675" y1="563" x2="693" y2="563" stroke="#f0f" stroke-dasharray="2,1"/><text x="694" y="566" fill="#f0f">t  maxJ</text>
<line x1="675" y1="569" x2="693" y2="569" stroke="#00f"/><text x="694" y="572" fill="#00f">J<tspan font-size="7" dy="3">L</tspan></text>
<line x1="675" y1="576" x2="693" y2="576" stroke="#0e0"/><text x="694" y="579" fill="#0e0">J<tspan font-size="7" dy="3">M</tspan></text>
<line x1="675" y1="583" x2="693" y2="583" stroke="#f66" stroke-width="2"/><text x="694" y="586" fill="#f00">J<tspan font-size="7" dy="3">N</tspan></text>
<line x1="675" y1="648" x2="693" y2="648" stroke="#444"/><text x="694" y="651" fill="#222">J*E'</text>
</g>

<g font-size="11.5" text-anchor="middle">
<text x="114" y="740">20:06:00</text><text x="195" y="740">20:06:30</text><text x="275" y="740">20:07:00</text><text x="356" y="740">20:07:30</text><text x="436" y="740">20:08:00</text><text x="517" y="740">20:08:30</text>
<text x="114" y="761">1.13</text><text x="195" y="761">1.13</text><text x="275" y="761">1.14</text><text x="356" y="761">1.14</text><text x="436" y="761">1.14</text><text x="514" y="761">1.15</text>
<text x="114" y="779">-11.9</text><text x="195" y="779">-11.9</text><text x="275" y="779">-11.9</text><text x="356" y="779">-11.9</text><text x="436" y="779">-11.9</text><text x="514" y="779">-11.9</text>
<text x="114" y="797">-1.21</text><text x="195" y="797">-1.21</text><text x="275" y="797">-1.21</text><text x="356" y="797">-1.21</text><text x="436" y="797">-1.21</text><text x="514" y="797">-1.21</text>
<text x="711" y="724">20:06:00</text><text x="792" y="724">20:06:30</text><text x="872" y="724">20:07:00</text><text x="953" y="724">20:07:30</text><text x="1033" y="724">20:08:00</text><text x="1114" y="724">20:08:30</text>
<text x="711" y="746">1.13</text><text x="792" y="746">1.13</text><text x="872" y="746">1.14</text><text x="953" y="746">1.14</text><text x="1033" y="746">1.14</text><text x="1111" y="746">1.15</text>
<text x="711" y="764">-11.9</text><text x="792" y="764">-11.9</text><text x="872" y="764">-11.9</text><text x="953" y="764">-11.9</text><text x="1033" y="764">-11.9</text><text x="1111" y="764">-11.9</text>
<text x="711" y="781">-1.21</text><text x="792" y="781">-1.21</text><text x="872" y="781">-1.21</text><text x="953" y="781">-1.21</text><text x="1033" y="781">-1.21</text><text x="1111" y="781">-1.21</text>
</g>
<g font-size="11.5">
<text x="50" y="761">X</text><text x="50" y="779">Y</text><text x="50" y="797">Z</text>
<text x="540" y="761">Re</text><text x="540" y="779">Re</text><text x="540" y="797">Re</text>
<text x="427" y="838">paschmann 25-Oct-2018 16:54</text>
<text x="647" y="746">X</text><text x="647" y="764">Y</text><text x="647" y="781">Z</text>
<text x="1138" y="746">Re</text><text x="1138" y="764">Re</text><text x="1138" y="781">Re</text>
<text x="1022" y="837">paschmann 25-Oct-2018 16:54</text>
</g>
</svg>
</body></html>
